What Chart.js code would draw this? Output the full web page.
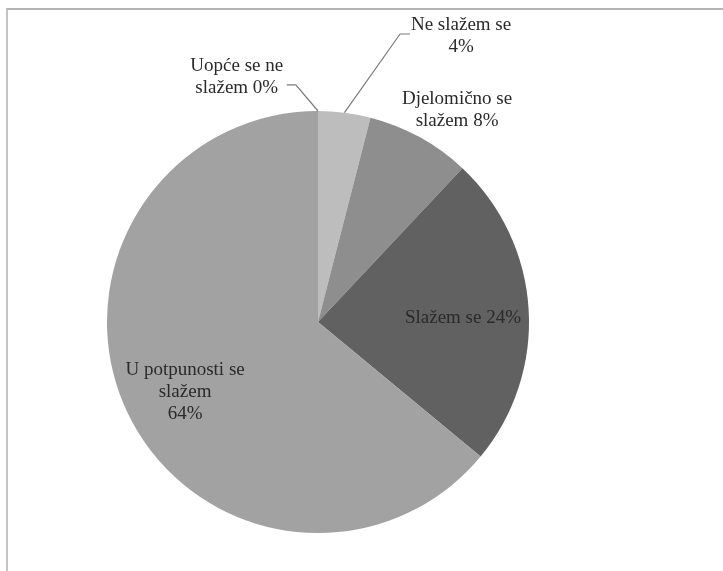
<!DOCTYPE html>
<html>
<head>
<meta charset="utf-8">
<script src="https://cdn.jsdelivr.net/npm/chart.js@4"></script>
<style>
  body { margin: 0; background: #fff; }
  #wrap { position: relative; width: 723px; height: 571px; overflow: hidden; }
  #frame { position: absolute; left: 6px; top: 8px; width: 800px; height: 700px;
           border-top: 2px solid #b4b4b4; border-left: 2px solid #c4c4c4; }
  #pie { position: absolute; left: 0; top: 0; }
</style>
</head>
<body>
<div id="wrap">
  <div id="frame"></div>
  <canvas id="pie" width="723" height="571"></canvas>
</div>
<script>
// odgovori (redoslijed kao na slici, od vrha u smjeru kazaljke)
const categories = ['Uopće se ne slažem', 'Ne slažem se', 'Djelomično se slažem', 'Slažem se', 'U potpunosti se slažem'];
const percentages = [0, 4, 8, 24, 64];
const sliceColors = ['#d0d0d0', '#bdbdbd', '#8e8e8e', '#616161', '#a2a2a2'];

// tekst oznaka, po recima
const labelLines = [
    ['Uopće se ne', 'slažem 0%'],
    ['Ne slažem se', '4%'],
    ['Djelomično se', 'slažem 8%'],
    ['Slažem se 24%'],
    ['U potpunosti se', 'slažem', '64%']
];

// položaj oznaka u odnosu na središte (u jedinicama polumjera) + vodilice
const labelPos = [
    { fx: -0.385, fy: -1.16, leader: { ex: -0.105, ey: -1.124, sx: -0.148 } },
    { fx: 0.678, fy: -1.355, leader: { ex: 0.389, ey: -1.365, sx: 0.436 } },
    { fx: 0.659, fy: -1.005 },
    { fx: 0.687, fy: -0.019 },
    { fx: -0.630, fy: 0.332 }
];

const labelPlugin = {
    id: 'sliceLabels',
    afterDatasetsDraw(chart) {
        const ctx = chart.ctx;
        const meta = chart.getDatasetMeta(0);
        ctx.save();
        ctx.font = '19px "Liberation Serif", "Times New Roman", serif';
        ctx.fillStyle = '#2a2a2a';
        ctx.textAlign = 'center';
        ctx.textBaseline = 'middle';
        meta.data.forEach((arc, i) => {
            const p = arc.getProps(['x', 'y', 'startAngle', 'endAngle', 'outerRadius'], true);
            const r = p.outerRadius;
            const pos = labelPos[i];
            const lines = labelLines[i];
            const lh = 22;
            const tx = p.x + pos.fx * r;
            const ty = p.y + pos.fy * r;
            lines.forEach((t, k) => {
                ctx.fillText(t, tx, ty + (k - (lines.length - 1) / 2) * lh);
            });
            if (pos.leader) {
                const mid = (p.startAngle + p.endAngle) / 2;
                const ax = p.x + Math.cos(mid) * r;
                const ay = p.y + Math.sin(mid) * r;
                const ex = p.x + pos.leader.ex * r;
                const ey = p.y + pos.leader.ey * r;
                ctx.strokeStyle = '#7a7a7a';
                ctx.lineWidth = 1.2;
                ctx.beginPath();
                ctx.moveTo(ax, ay);
                ctx.lineTo(ex, ey);
                ctx.lineTo(p.x + pos.leader.sx * r, ey);
                ctx.stroke();
            }
        });
        ctx.restore();
    }
};

new Chart(document.getElementById('pie'), {
    type: 'pie',
    data: {
        labels: categories,
        datasets: [{
            data: percentages,
            backgroundColor: sliceColors,
            borderWidth: 0
        }]
    },
    options: {
        responsive: false,
        animation: false,
        layout: { padding: { left: 107, right: 194, top: 111, bottom: 38 } },
        plugins: {
            legend: { display: false },
            tooltip: { enabled: false }
        }
    },
    plugins: [labelPlugin]
});
</script>
</body>
</html>
